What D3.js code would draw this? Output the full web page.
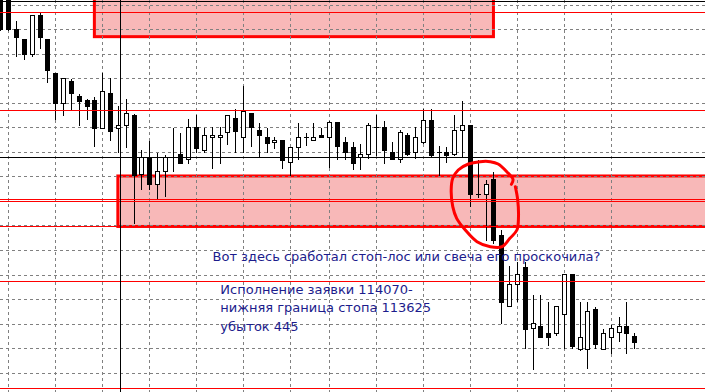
<!DOCTYPE html>
<html>
<head>
<meta charset="utf-8">
<script src="https://cdn.jsdelivr.net/npm/d3@7"></script>
<style>
  html, body { margin: 0; padding: 0; background: #fff; }
  svg { display: block; }
</style>
</head>
<body>
<div class="chart"></div>
<script>
// bars start at index -1 (partly cut at the left edge)
const firstBar = -1;
const opens = [116152,116101,115754,115652,115496,115897,115652,115305,114996,115224,115071,115030,115030,114747,115101,114747,114772,114877,114272,114446,114170,114301,114449,114479,114425,114752,114520,114650,114650,114701,114843,114650,114894,114721,114650,114599,114619,114398,114548,114650,114619,114670,114650,114803,114599,114548,114446,114479,114752,114752,114497,114425,114673,114497,114599,114823,114497,114497,114479,114721,114778,114068,114068,114221,113653,112926,113150,113327,112701,112725,112653,112650,112844,113252,112493,112493,112895,112493,112616,112667,112722,112620];
const highs = [116254,116152,115836,115652,115897,115914,115652,115305,115251,115241,115094,115043,115061,115305,115251,114969,115040,114884,114520,114612,114489,114474,114741,114693,114833,114877,114741,114752,114752,114874,114935,115173,114894,114792,114741,114650,114619,114548,114792,114690,114792,114741,114819,114803,114656,114599,114578,114792,114877,114816,114599,114721,114690,114752,114935,114935,114561,114551,114874,115020,114778,114418,114214,114296,113704,113340,113381,113373,113041,113041,112967,112926,113252,113252,112967,112967,112916,112691,112738,112814,112967,112650];
const lows = [115744,115745,115482,115448,115482,115557,115211,114833,114877,114935,114778,114833,114561,114747,114622,114503,114554,113778,114122,114119,114030,114051,114309,114384,114384,114503,114503,114333,114384,114578,114503,114503,114561,114446,114503,114537,114333,114265,114428,114571,114619,114650,114350,114428,114428,114323,114323,114435,114469,114384,114425,114401,114469,114435,114588,114452,114265,114401,114469,114452,113949,114041,113602,113575,112759,112926,112983,112504,112283,112616,112531,112630,112504,112504,112483,112300,112504,112493,112453,112575,112453,112504];
const closes = [115754,115751,115670,115496,115897,115670,115336,114996,115251,115098,115023,114972,114747,115122,114717,114775,114894,114265,114446,114170,114301,114446,114449,114390,114752,114544,114670,114670,114670,114874,114717,114921,114752,114670,114594,114619,114418,114548,114650,114650,114650,114650,114803,114564,114497,114390,114476,114772,114752,114520,114425,114701,114479,114650,114823,114472,114497,114474,114721,114775,114068,114068,114170,113599,112973,113150,113252,112697,112755,112616,112616,112926,113252,112524,112616,112875,112544,112650,112701,112722,112650,112565];

// price levels
const gridPrices = d3.range(112250, 116001, 250);
const gridBars = [0, 6, 12, 18, 24, 30, 36, 41, 47, 53, 59, 65, 71, 77];
const redLevels = [115925, 114928, 114020, 114002, 113740, 113187, 112096];
const blackLevel = 114446;
const blackBar = 14.28;

// stop zones: [fromBar, toBar, topPrice, bottomPrice]
const zones = [
  [11, 62, 116400, 115676],
  [14, 110, 114255, 113740]
];

// hand drawn loop around the stop-out bars: [bar, price]
const loop = [
  [64.3, 114170], [64.5, 114220], [63.7, 114299], [62.6, 114377], [61.6, 114401],
  [60.3, 114401], [58.8, 114377], [57.5, 114316], [56.8, 114231], [56.6, 114112],
  [56.8, 113942], [57.3, 113823], [58.4, 113704], [59.9, 113585], [61.6, 113534],
  [63.1, 113534], [64.1, 113619], [65.0, 113704], [65.2, 113840], [65.1, 114010],
  [64.8, 114146]
];

const notes = [
  { bar: 26.1, price: 113385, text: "Вот здесь сработал стоп-лос или свеча его проскочила?" },
  { bar: 27.1, price: 113051, text: "Исполнение заявки 114070-" },
  { bar: 27.1, price: 112864, text: "нижняя граница стопа 113625" },
  { bar: 27.1, price: 112677, text: "убыток 445" }
];

const width = 705;
const height = 392;

const svg = d3.select(".chart")
  .append("svg")
  .attr("width", width)
  .attr("height", height);

const x = d3.scaleLinear().domain([0, 80]).range([8.3, 634.3]);
const y = d3.scaleLinear().domain([116050, 116050 - height * 10.2]).range([0, height]);
const px = v => Math.round(v) + 0.5;

const bars = opens.map((o, i) => ({
  i: i + firstBar, o, h: highs[i], l: lows[i], c: closes[i]
}));

// zone fills (background objects)
svg.append("g")
  .selectAll("rect")
  .data(zones)
  .join("rect")
  .attr("x", d => x(d[0]))
  .attr("y", d => y(d[2]))
  .attr("width", d => x(d[1]) - x(d[0]))
  .attr("height", d => y(d[3]) - y(d[2]))
  .attr("fill", "#f8b8b8")
  .attr("stroke", "#ff0000")
  .attr("stroke-width", 3);

// grid
const grid = svg.append("g")
  .attr("stroke", "#808080")
  .attr("stroke-dasharray", "3,3")
  .attr("shape-rendering", "crispEdges");
grid.selectAll("line.h")
  .data(gridPrices)
  .join("line")
  .attr("class", "h")
  .attr("x1", 0).attr("x2", width)
  .attr("y1", d => px(y(d))).attr("y2", d => px(y(d)));
grid.selectAll("line.v")
  .data(gridBars)
  .join("line")
  .attr("class", "v")
  .attr("y1", 0).attr("y2", height)
  .attr("x1", d => px(x(d))).attr("x2", d => px(x(d)));

// candles
const candles = svg.append("g").attr("shape-rendering", "crispEdges");
candles.selectAll("line")
  .data(bars)
  .join("line")
  .attr("x1", d => px(x(d.i))).attr("x2", d => px(x(d.i)))
  .attr("y1", d => Math.round(y(d.h))).attr("y2", d => Math.round(y(d.l)) + 1)
  .attr("stroke", "#000");
candles.selectAll("rect")
  .data(bars)
  .join("rect")
  .attr("x", d => d.c > d.o ? Math.round(x(d.i)) - 1.5 : Math.round(x(d.i)) - 2)
  .attr("y", d => {
    const t = Math.round(y(Math.max(d.o, d.c)));
    return d.c > d.o ? t + 0.5 : t;
  })
  .attr("width", d => d.c > d.o ? 4 : 5)
  .attr("height", d => {
    const t = Math.round(y(Math.max(d.o, d.c)));
    const b = Math.round(y(Math.min(d.o, d.c)));
    return d.c > d.o ? Math.max(1, b - t) : Math.max(1, b - t + 1);
  })
  .attr("fill", d => d.c > d.o ? "#fff" : "#000")
  .attr("stroke", d => d.c > d.o ? "#000" : "none");

// horizontal lines on top
const lines = svg.append("g").attr("shape-rendering", "crispEdges");
lines.selectAll("line.red")
  .data(redLevels)
  .join("line")
  .attr("class", "red")
  .attr("x1", 0).attr("x2", width)
  .attr("y1", d => px(y(d))).attr("y2", d => px(y(d)))
  .attr("stroke", "#ff0000");
lines.append("line")
  .attr("x1", 0).attr("x2", width)
  .attr("y1", px(y(blackLevel))).attr("y2", px(y(blackLevel)))
  .attr("stroke", "#000");
lines.append("line")
  .attr("x1", px(x(blackBar))).attr("x2", px(x(blackBar)))
  .attr("y1", 0).attr("y2", height)
  .attr("stroke", "#000");
lines.append("line")
  .attr("x1", 0).attr("x2", width)
  .attr("y1", 1.5).attr("y2", 1.5)
  .attr("stroke", "#000");

// hand drawn loop
svg.append("path")
  .datum(loop)
  .attr("d", d3.line().x(d => x(d[0])).y(d => y(d[1])).curve(d3.curveCatmullRom))
  .attr("fill", "none")
  .attr("stroke", "#ff0000")
  .attr("stroke-width", 3)
  .attr("stroke-linecap", "round")
  .attr("stroke-linejoin", "round");

// notes
svg.append("g")
  .selectAll("text")
  .data(notes)
  .join("text")
  .attr("x", d => x(d.bar))
  .attr("y", d => y(d.price))
  .attr("font-family", "DejaVu Sans, Verdana, sans-serif")
  .attr("font-size", 13)
  .attr("fill", "#1c1c8c")
  .text(d => d.text);
</script>
</body>
</html>
